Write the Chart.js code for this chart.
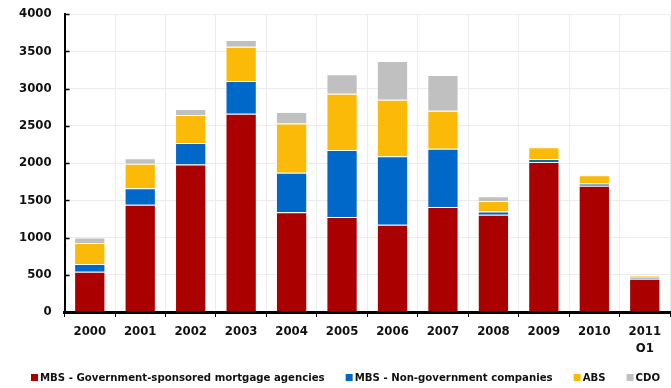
<!DOCTYPE html>
<html>
<head>
<meta charset="utf-8">
<script src="https://cdn.jsdelivr.net/npm/chart.js@4"></script>
<style>
  html, body { margin: 0; padding: 0; background: #fff; }
  #wrap { width: 671px; height: 388px; }
</style>
</head>
<body>
<div id="wrap"><canvas id="grafico" width="671" height="388"></canvas></div>
<script>
// issuance by type, billions
const years = ["2000", "2001", "2002", "2003", "2004", "2005", "2006", "2007", "2008", "2009", "2010", ["2011", "Q1"]];
const mbsAgencies = [540, 1440, 1980, 2660, 1340, 1275, 1170, 1410, 1305, 2015, 1695, 445];
const mbsPrivate = [105, 220, 290, 440, 530, 900, 920, 780, 45, 40, 30, 15];
const abs = [280, 330, 375, 460, 660, 755, 760, 510, 140, 155, 110, 30];
const cdo = [75, 75, 80, 90, 155, 260, 520, 480, 65, 5, 5, 5];

const fuente = "'DejaVu Sans Condensed', 'DejaVu Sans', sans-serif";

function serie(label, data, color) {
  return {
    label: label,
    data: data,
    backgroundColor: color,
    borderColor: "rgba(255,255,255,0.35)",
    borderWidth: 1,
    barPercentage: 0.62,
    categoryPercentage: 1
  };
}

// short black ticks on the inside of the y axis
const marcasY = {
  id: "marcasY",
  afterDatasetsDraw(chart) {
    let y = chart.scales.y;
    let c = chart.ctx;
    c.save();
    c.strokeStyle = "#000";
    c.lineWidth = 1.5;
    y.ticks.forEach(t => {
      let py = Math.round(y.getPixelForValue(t.value)) + 0.5;
      c.beginPath();
      c.moveTo(y.right, py);
      c.lineTo(y.right + 5, py);
      c.stroke();
    });
    c.restore();
  }
};

// legend in one row along the bottom, tighter than the built-in one
const leyenda = {
  id: "leyenda",
  afterDraw(chart) {
    let c = chart.ctx;
    let x = 31;
    let yc = 377.5;
    c.save();
    c.font = "bold 11.3px " + fuente;
    c.textBaseline = "middle";
    c.textAlign = "left";
    chart.data.datasets.forEach(ds => {
      c.fillStyle = ds.backgroundColor;
      c.fillRect(x, yc - 3.5, 7, 7);
      x += 9;
      c.fillStyle = "#111";
      c.fillText(ds.label, x, yc + 0.5);
      x += c.measureText(ds.label).width + 21;
    });
    c.restore();
  }
};

let ctx = document.getElementById("grafico").getContext("2d");

new Chart(ctx, {
  type: "bar",
  data: {
    labels: years,
    datasets: [
      serie("MBS - Government-sponsored mortgage agencies", mbsAgencies, "#aa0000"),
      serie("MBS - Non-government companies", mbsPrivate, "#0068c8"),
      serie("ABS", abs, "#fbba07"),
      serie("CDO", cdo, "#c0c0c0")
    ]
  },
  options: {
    responsive: false,
    animation: false,
    layout: { padding: { top: 14, right: 1, left: 19, bottom: 36 } },
    scales: {
      x: {
        stacked: true,
        border: { color: "#000", width: 3 },
        grid: { color: "#ececec", tickColor: "#000", tickLength: 5, offset: true },
        ticks: { color: "#111", font: { family: fuente, size: 13, weight: "bold", lineHeight: 1.3 }, padding: 6, maxRotation: 0 },
        afterFit: s => { s.height = 40; }
      },
      y: {
        stacked: true,
        min: 0,
        max: 4000,
        border: { color: "#000", width: 2 },
        grid: { color: "#ececec", drawTicks: true, tickLength: 13, tickColor: "rgba(0,0,0,0)" },
        ticks: {
          stepSize: 500,
          color: "#111",
          font: { family: fuente, size: 13, weight: "bold", lineHeight: 1 },
          padding: 0,
          callback: v => String(v)
        }
      }
    },
    plugins: {
      tooltip: { enabled: false },
      legend: { display: false }
    }
  },
  plugins: [marcasY, leyenda]
});
</script>
</body>
</html>
